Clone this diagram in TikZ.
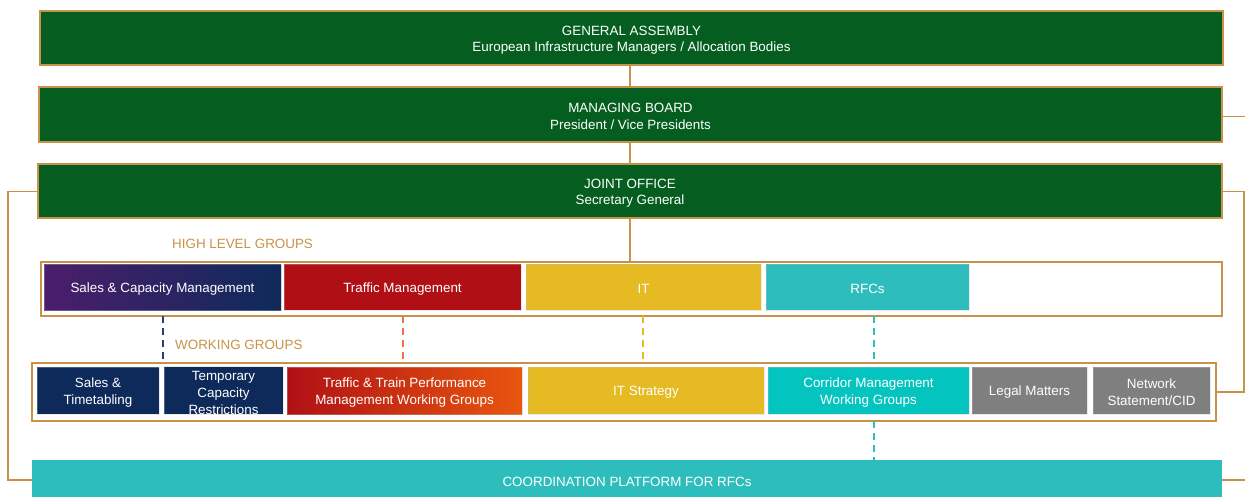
\documentclass[tikz,border=0pt]{standalone}
\usepackage{fontspec}
\setmainfont{Liberation Sans}
\usetikzlibrary{calc}
\definecolor{tan}{HTML}{C8924A}
\definecolor{dkgreen}{HTML}{055E20}
\definecolor{purp}{HTML}{4B1E6B}
\definecolor{navy}{HTML}{0E2A5A}
\definecolor{navydash}{HTML}{2A3E72}
\definecolor{tred}{HTML}{B01015}
\definecolor{torange}{HTML}{E8560F}
\definecolor{orangedash}{HTML}{EE7448}
\definecolor{yel}{HTML}{E5BA22}
\definecolor{teal1}{HTML}{2EBDBD}
\definecolor{teal2}{HTML}{04C4C0}
\definecolor{gry}{HTML}{7F7F7F}
\newcommand{\lowr}{\rule{0pt}{13.7pt}}
\tikzset{
  txt/.style={font=\fontsize{13.4}{16.8}\selectfont, text=white, align=center, inner sep=0pt, outer sep=0pt},
  greenbox/.style={txt, fill=dkgreen, draw=tan, line width=1.2pt},
  outerbox/.style={draw=tan, line width=2pt, inner sep=0pt, outer sep=0pt, fill=none},
  inner/.style={txt, draw=white!75!black, line width=0.6pt, draw opacity=0.35},
  conn/.style={draw=tan, line width=1.8pt},
  dashconn/.style={line width=1.9pt, dash pattern=on 7pt off 5pt},
  grouplabel/.style={font=\fontsize{13.4}{16}\selectfont, text=tan, anchor=west, inner sep=0pt}
}
\begin{document}
\begin{tikzpicture}[x=1pt, y=-1pt]
\useasboundingbox (0,0) rectangle (1245,497);
\coordinate (lcorner1) at (8,191.5);
\coordinate (lcorner2) at (8,480);
\coordinate (rmb) at (1246,116.5);
\coordinate (rjo) at (1244,191.5);
\coordinate (rwg) at (1244,392);
\coordinate (rcp) at (1246,480);
\coordinate (spine) at (630,0);
% green boxes
\node[greenbox, minimum width=1183, minimum height=54] (ga) at (631.5,38) {\lowr GENERAL ASSEMBLY\\European Infrastructure Managers / Allocation Bodies};
\node[greenbox, minimum width=1183, minimum height=55] (mb) at (630.5,114.5) {\lowr MANAGING BOARD\\President / Vice Presidents};
\node[greenbox, minimum width=1184, minimum height=54] (jo) at (630,191) {\lowr JOINT OFFICE\\Secretary General};
% high level groups
\node[grouplabel] (hlg) at (172,244) {HIGH LEVEL GROUPS};
\node[outerbox, minimum width=1181, minimum height=54] (hl) at (631.5,289) {};
\node[inner, left color=purp, right color=navy, minimum width=237, minimum height=46] (scm) at (162.5,287) {\lowr Sales \& Capacity Management};
\node[inner, fill=tred, minimum width=237, minimum height=46] (tm) at (402.5,287) {\lowr Traffic Management};
\node[inner, fill=yel, minimum width=235, minimum height=46] (it) at (643.5,287) {\lowr IT};
\node[inner, fill=teal1, minimum width=203, minimum height=46] (rfc) at (867.5,287) {\lowr RFCs};
% working groups
\node[grouplabel] (wgl) at (175,345) {WORKING GROUPS};
\node[outerbox, minimum width=1184, minimum height=58] (wg) at (624,392) {};
\node[inner, fill=navy, minimum width=122, minimum height=47] (st) at (98,390.5) {\lowr Sales \&\\Timetabling};
\node[inner, fill=navy, minimum width=119, minimum height=47] (tcr) at (223.5,390.5) {\lowr Temporary\\Capacity\\Restrictions};
\node[inner, left color=tred, right color=torange, minimum width=235, minimum height=47] (ttp) at (404.5,390.5) {\lowr Traffic \& Train Performance\\Management Working Groups};
\node[inner, fill=yel, minimum width=236, minimum height=47] (its) at (646,390.5) {\lowr IT Strategy};
\node[inner, fill=teal2, minimum width=201, minimum height=47] (cm) at (868.5,390.5) {\lowr Corridor Management\\Working Groups};
\node[inner, fill=gry, minimum width=115, minimum height=47] (lm) at (1029.5,390.5) {\lowr Legal Matters};
\node[inner, fill=gry, minimum width=117, minimum height=47] (ns) at (1151.5,390.5) {\lowr Network\\Statement/CID};
% coordination platform
\node[txt, fill=teal1, minimum width=1190, minimum height=40] (cp) at (627,479.5) {\lowr COORDINATION PLATFORM FOR RFCs};
% solid connectors
\draw[conn] (ga.south -| spine) -- (mb.north -| spine);
\draw[conn] (mb.south -| spine) -- (jo.north -| spine);
\draw[conn] (jo.south -| spine) -- (hl.north -| spine);
\draw[conn] (jo.west |- lcorner1) -- (lcorner1) -- (lcorner2) -- (cp.west |- lcorner2);
\draw[conn] (mb.east |- rmb) -- (rmb);
\draw[conn] (jo.east |- rjo) -- (rjo) -- (rwg) -- (wg.east |- rwg);
\draw[conn] (cp.east |- rcp) -- (rcp);
% dashed connectors
\draw[dashconn, draw=navydash] (hl.south -| 163,0) -- (wg.north -| 163,0);
\draw[dashconn, draw=orangedash] (hl.south -| 403,0) -- (wg.north -| 403,0);
\draw[dashconn, draw=yel] (hl.south -| 643,0) -- (wg.north -| 643,0);
\draw[dashconn, draw=teal1] (hl.south -| 874,0) -- (wg.north -| 874,0);
\draw[dashconn, draw=teal1] (wg.south -| 874,0) -- (cp.north -| 874,0);
\end{tikzpicture}
\end{document}
